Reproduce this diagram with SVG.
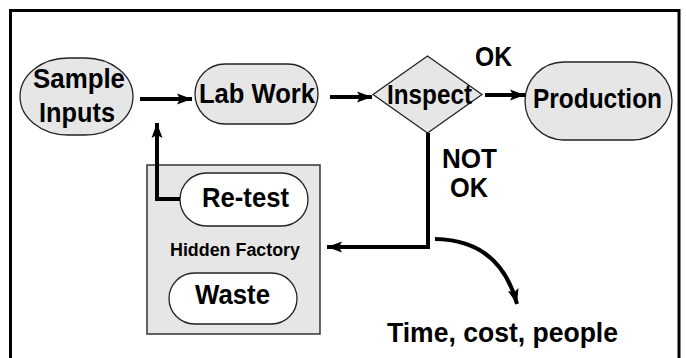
<svg xmlns="http://www.w3.org/2000/svg" width="686" height="358" viewBox="0 0 686 358">
  <style>
    .lbl { font-family: "Liberation Sans", Arial, sans-serif; font-weight: bold; fill: #000; text-anchor: middle; }
    .big { font-size: 28px; }
    .small { font-size: 18px; }
    .term { fill: #e6e6e6; stroke: #222; stroke-width: 1.3; }
    .white { fill: #fff; stroke: #222; stroke-width: 1.3; }
    .conn { fill: none; stroke: #000; stroke-width: 4; }
  </style>
  <defs>
    <marker id="head" markerUnits="userSpaceOnUse" markerWidth="16" markerHeight="12" refX="15" refY="6" orient="auto">
      <path d="M0,0.5 L15,6 L0,11.5 L3,6 z" fill="#000"/>
    </marker>
  </defs>

  <!-- frame -->
  <rect x="10.5" y="10.5" width="668.5" height="360" fill="#fff" stroke="#000" stroke-width="3"/>

  <!-- hidden factory box -->
  <g id="hidden-factory">
    <rect x="147" y="165" width="173" height="169" fill="#e6e6e6" stroke="#333" stroke-width="1.5"/>
    <text class="lbl small" x="235" y="256" textLength="130" lengthAdjust="spacingAndGlyphs">Hidden Factory</text>
  </g>

  <g id="sample-inputs">
    <rect class="term" x="20" y="58" width="113" height="77" rx="48" ry="38.5"/>
    <text class="lbl big" x="79" y="88" textLength="92" lengthAdjust="spacingAndGlyphs">Sample</text>
    <text class="lbl big" x="77" y="122" textLength="76" lengthAdjust="spacingAndGlyphs">Inputs</text>
  </g>

  <g id="lab-work">
    <rect class="term" x="195" y="64" width="123" height="60" rx="30" ry="30"/>
    <text class="lbl big" x="257" y="103" textLength="116" lengthAdjust="spacingAndGlyphs">Lab Work</text>
  </g>

  <g id="inspect">
    <polygon class="term" points="373,94.5 427.5,56 482,94.5 427.5,133"/>
    <text class="lbl big" x="429.5" y="104" textLength="85" lengthAdjust="spacingAndGlyphs">Inspect</text>
  </g>

  <g id="production">
    <rect class="term" x="525" y="62" width="147" height="78" rx="39" ry="39"/>
    <text class="lbl big" x="597.5" y="108" textLength="129" lengthAdjust="spacingAndGlyphs">Production</text>
  </g>

  <g id="re-test">
    <rect class="white" x="180" y="173" width="128" height="53" rx="26.5" ry="26.5"/>
    <text class="lbl big" x="245.5" y="207" textLength="87" lengthAdjust="spacingAndGlyphs">Re-test</text>
  </g>

  <g id="waste">
    <rect class="white" x="169" y="273" width="128" height="51" rx="25.5" ry="25.5"/>
    <text class="lbl big" x="232.5" y="304" textLength="75" lengthAdjust="spacingAndGlyphs">Waste</text>
  </g>

  <!-- connectors -->
  <g id="connectors">
    <line class="conn" x1="140" y1="99" x2="192" y2="99" marker-end="url(#head)"/>
    <line class="conn" x1="330" y1="97" x2="372" y2="97" marker-end="url(#head)"/>
    <line class="conn" x1="485" y1="95" x2="525" y2="95" marker-end="url(#head)"/>
    <polyline class="conn" points="180,199 157,199 157,123" marker-end="url(#head)"/>
    <polyline class="conn" points="428,133 428,247 327,247" marker-end="url(#head)"/>
    <path class="conn" d="M435,239 Q500,240 517,304" marker-end="url(#head)"/>
  </g>

  <!-- outcome labels -->
  <g id="labels">
    <text class="lbl big" x="493.5" y="66" textLength="37" lengthAdjust="spacingAndGlyphs">OK</text>
    <text class="lbl big" x="469.5" y="168" textLength="55" lengthAdjust="spacingAndGlyphs">NOT</text>
    <text class="lbl big" x="469" y="197" textLength="38" lengthAdjust="spacingAndGlyphs">OK</text>
    <text class="lbl big" x="502.5" y="342" textLength="231" lengthAdjust="spacingAndGlyphs">Time, cost, people</text>
  </g>
</svg>
